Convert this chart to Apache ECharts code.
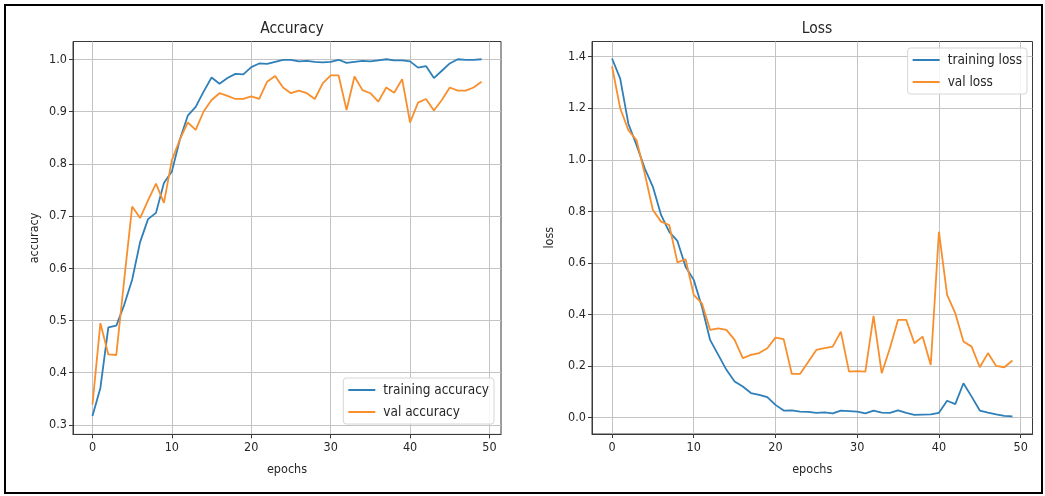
<!DOCTYPE html>
<html>
<head>
<meta charset="utf-8">
<script src="https://cdn.jsdelivr.net/npm/echarts@6/dist/echarts.min.js"></script>
<style>html,body{margin:0;padding:0;background:#fff;}#c{width:1045px;height:496px;}</style>
</head>
<body>
<div id="c"></div>
<script>
const epochs = Array.from({length: 50}, (_, i) => i);
const trainAcc = [0.317,0.371,0.487,0.490,0.530,0.578,0.650,0.694,0.706,0.763,0.785,0.846,0.892,0.909,0.938,0.965,0.953,0.964,0.972,0.971,
  0.985,0.992,0.991,0.995,0.999,0.999,0.996,0.997,0.995,0.994,0.995,0.999,0.993,0.995,0.997,0.996,0.998,1.000,0.998,0.998,
  0.996,0.984,0.987,0.964,0.978,0.992,1.000,0.999,0.999,1.000];
const valAcc = [0.339,0.495,0.435,0.434,0.578,0.718,0.696,0.730,0.762,0.725,0.807,0.846,0.879,0.865,0.900,0.922,0.935,0.930,0.924,0.924,
  0.929,0.924,0.957,0.968,0.946,0.935,0.940,0.935,0.924,0.954,0.969,0.969,0.903,0.967,0.941,0.935,0.919,0.946,0.936,0.962,
  0.879,0.917,0.924,0.902,0.922,0.946,0.940,0.940,0.946,0.957];
const trainLoss = [1.393,1.315,1.140,1.057,0.967,0.895,0.786,0.720,0.685,0.585,0.534,0.430,0.301,0.243,0.185,0.140,0.120,0.095,0.088,0.079,
  0.049,0.027,0.028,0.023,0.022,0.018,0.020,0.016,0.027,0.025,0.023,0.016,0.027,0.019,0.018,0.028,0.018,0.010,0.011,0.012,
  0.018,0.065,0.052,0.133,0.081,0.027,0.019,0.012,0.006,0.004];
const valLoss = [1.363,1.200,1.115,1.076,0.947,0.805,0.760,0.747,0.602,0.614,0.476,0.443,0.340,0.346,0.340,0.301,0.230,0.243,0.250,0.269,
  0.310,0.304,0.169,0.169,0.215,0.262,0.269,0.275,0.333,0.178,0.180,0.178,0.394,0.172,0.269,0.379,0.379,0.288,0.314,0.204,
  0.721,0.476,0.405,0.295,0.275,0.195,0.250,0.200,0.195,0.221];
const xTicks = [0, 10, 20, 30, 40, 50];
const accTicks = [0.3, 0.4, 0.5, 0.6, 0.7, 0.8, 0.9, 1.0];
const lossTicks = [0.0, 0.2, 0.4, 0.6, 0.8, 1.0, 1.2, 1.4];

const FONT = '"DejaVu Sans Condensed", "DejaVu Sans", sans-serif';
const BLUE = '#2f7fb8';
const ORANGE = '#f88e2c';
const GRID = '#c4c4c4';
const TXT = '#262626';

function xAxisCfg(gi) {
  return {
    type: 'value', gridIndex: gi, min: -2.45, max: 51.45,
    name: 'epochs', nameLocation: 'middle', nameGap: 29,
    nameTextStyle: {fontFamily: FONT, fontSize: 12.5, color: TXT},
    axisLine: {show: true, onZero: false, lineStyle: {color: '#3a3a3a', width: 1}},
    axisTick: {show: true, length: 4, customValues: xTicks, lineStyle: {color: '#3a3a3a'}},
    axisLabel: {customValues: xTicks, fontFamily: FONT, fontSize: 12.5, color: TXT, margin: 7},
    splitLine: {show: true, lineStyle: {color: GRID, width: 1}}
  };
}
function yAxisCfg(gi, name, min, max, ticks, gap) {
  return {
    type: 'value', gridIndex: gi, min: min, max: max,
    name: name, nameLocation: 'middle', nameGap: gap,
    nameTextStyle: {fontFamily: FONT, fontSize: 12.5, color: TXT},
    axisLine: {show: true, onZero: false, lineStyle: {color: '#3a3a3a', width: 1}},
    axisTick: {show: true, length: 4, customValues: ticks, lineStyle: {color: '#3a3a3a'}},
    axisLabel: {customValues: ticks, fontFamily: FONT, fontSize: 12.5, color: TXT, margin: 6,
      formatter: v => v.toFixed(1)},
    splitLine: {show: true, lineStyle: {color: GRID, width: 1}}
  };
}
function line(name, data, color, xi, yi) {
  return {
    name: name, type: 'line', xAxisIndex: xi, yAxisIndex: yi,
    data: epochs.map((e, i) => [e, data[i]]),
    showSymbol: false, symbol: 'none', smooth: false,
    lineStyle: {color: color, width: 1.8}, itemStyle: {color: color},
    animation: false
  };
}
function legendCfg(names, right, top) {
  return {data: names, orient: 'vertical', right: right, top: top,
    icon: 'rect', itemWidth: 27, itemHeight: 2, itemGap: 8,
    textStyle: {fontFamily: FONT, fontSize: 13.5, color: TXT, padding: [0, 0, 0, 3]},
    backgroundColor: 'rgba(255,255,255,0.85)', borderColor: '#d6d6d6', borderWidth: 1, borderRadius: 3,
    padding: [5, 5, 5, 5]};
}

const chart = echarts.init(document.getElementById('c'), null, {renderer: 'canvas'});
chart.setOption({
  backgroundColor: '#ffffff',
  animation: false,
  title: [
    {text: 'Accuracy', left: 287, top: 16, textAlign: 'center',
     textStyle: {fontFamily: FONT, fontSize: 15.5, fontWeight: 'normal', color: TXT}},
    {text: 'Loss', left: 812, top: 16, textAlign: 'center',
     textStyle: {fontFamily: FONT, fontSize: 15.5, fontWeight: 'normal', color: TXT}}
  ],
  grid: [
    {left: 73, right: 544, top: 41.5, bottom: 61.6, show: true, borderColor: '#3a3a3a', borderWidth: 1},
    {left: 592, right: 12.5, top: 41.5, bottom: 62, show: true, borderColor: '#3a3a3a', borderWidth: 1}
  ],
  xAxis: [xAxisCfg(0), xAxisCfg(1)],
  yAxis: [
    yAxisCfg(0, 'accuracy', 0.282, 1.034, accTicks, 32),
    yAxisCfg(1, 'loss', -0.064, 1.459, lossTicks, 36)
  ],
  legend: [
    legendCfg(['training accuracy', 'val accuracy'], 551, 378),
    legendCfg(['training loss', 'val loss'], 18, 48)
  ],
  series: [
    line('training accuracy', trainAcc, BLUE, 0, 0),
    line('val accuracy', valAcc, ORANGE, 0, 0),
    line('training loss', trainLoss, BLUE, 1, 1),
    line('val loss', valLoss, ORANGE, 1, 1)
  ],
  graphic: [
    {type: 'rect', shape: {x: 5, y: 5, width: 1037, height: 488}, z: 100,
     style: {fill: 'none', stroke: '#000', lineWidth: 2}, silent: true}
  ]
});
</script>
</body>
</html>
